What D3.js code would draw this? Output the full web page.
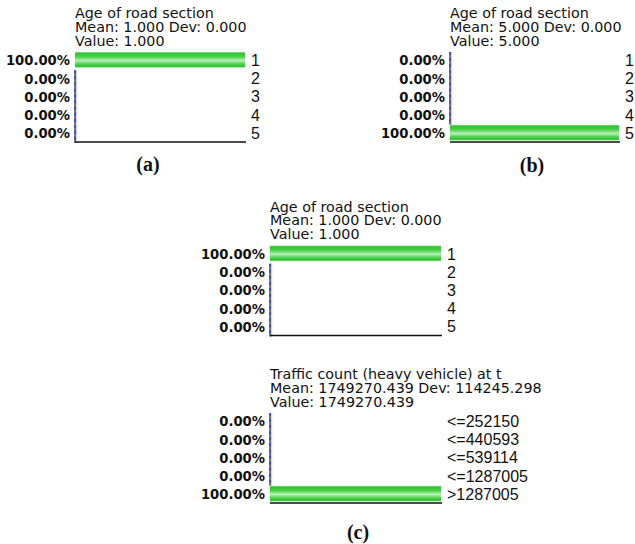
<!DOCTYPE html>
<html>
<head>
<meta charset="utf-8">
<script src="https://cdn.jsdelivr.net/npm/d3@7"></script>
<style>
  html, body { margin: 0; padding: 0; background: #fff; }
  svg { display: block; }
  .ttl { font-family: "DejaVu Sans", Verdana, sans-serif; font-size: 14.3px; fill: #111; }
  .pct { font-family: "DejaVu Sans", Verdana, sans-serif; font-size: 13.2px; font-weight: bold; fill: #111; }
  .cat { font-family: "Liberation Sans", Arial, sans-serif; font-size: 16px; fill: #111; }
  .cap { font-family: "Liberation Serif", "Times New Roman", serif; font-size: 20px; font-weight: bold; fill: #111; }
</style>
</head>
<body>
<svg id="chart" width="635" height="544"></svg>
<script>
// Node states and beliefs (percent)
const ageCategories = ["1", "2", "3", "4", "5"];
const ageBeliefA = [100, 0, 0, 0, 0];
const ageBeliefB = [0, 0, 0, 0, 100];
const ageBeliefC = [100, 0, 0, 0, 0];
const trafficCategories = ["<=252150", "<=440593", "<=539114", "<=1287005", ">1287005"];
const trafficBeliefC = [0, 0, 0, 0, 100];

// Node header lines
const ageTitleA = ["Age of road section", "Mean: 1.000 Dev: 0.000", "Value: 1.000"];
const ageTitleB = ["Age of road section", "Mean: 5.000 Dev: 0.000", "Value: 5.000"];
const ageTitleC = ["Age of road section", "Mean: 1.000 Dev: 0.000", "Value: 1.000"];
const trafficTitleC = ["Traffic count (heavy vehicle) at t", "Mean: 1749270.439 Dev: 114245.298", "Value: 1749270.439"];

const captions = ["(a)", "(b)", "(c)"];

const svg = d3.select("#chart");

// glossy green fill for belief bars
const grad = svg.append("defs").append("linearGradient")
  .attr("id", "barFill").attr("x1", 0).attr("y1", 0).attr("x2", 0).attr("y2", 1);
[[0, "#8ee08e"], [0.1, "#2fc62f"], [0.3, "#48d048"], [0.55, "#b9f0b9"], [0.75, "#55d455"], [0.92, "#2cc02c"], [1, "#9ae29a"]]
  .forEach(([o, c]) => grad.append("stop").attr("offset", o).attr("stop-color", c));

function monitor(x0, x1, y0, title, cats, vals) {
  const g = svg.append("g");
  const x = d3.scaleLinear().domain([0, 100]).range([x0, x1]);
  const y = d3.scaleBand().domain(cats).range([y0, y0 + 88.5]).paddingInner(0.14).paddingOuter(0);
  const step = y.step();
  const base = y0 + 90;
  const rows = cats.map((c, i) => ({ c, v: vals[i] }));

  g.selectAll("text.ttl").data(title).join("text")
    .attr("class", "ttl")
    .attr("x", x0)
    .attr("y", (d, i) => y0 - 6.2 - (title.length - 1 - i) * 13.9)
    .text(d => d);

  // zero-belief rows show a thin dashed stub at the origin
  const zeros = rows.filter(d => d.v === 0);
  g.selectAll("line.zg").data(zeros).join("line")
    .attr("x1", x(0) + 1.5).attr("x2", x(0) + 1.5)
    .attr("y1", d => y(d.c)).attr("y2", d => y(d.c) + step)
    .attr("stroke", "#d4d4d4").attr("stroke-width", 1.5);
  g.selectAll("line.zk").data(zeros).join("line")
    .attr("x1", x(0)).attr("x2", x(0))
    .attr("y1", d => y(d.c)).attr("y2", d => y(d.c) + step)
    .attr("stroke", "#222").attr("stroke-width", 1.2);
  g.selectAll("line.zb").data(zeros).join("line")
    .attr("x1", x(0)).attr("x2", x(0))
    .attr("y1", d => y(d.c)).attr("y2", d => y(d.c) + step)
    .attr("stroke", "#2a3cf0").attr("stroke-width", 1.4)
    .attr("stroke-dasharray", "3,3");

  g.selectAll("rect.bar").data(rows.filter(d => d.v > 0)).join("rect")
    .attr("x", x(0))
    .attr("y", d => y(d.c))
    .attr("width", d => x(d.v) - x(0))
    .attr("height", y.bandwidth())
    .attr("fill", "url(#barFill)");

  g.append("line")
    .attr("x1", x(0)).attr("x2", x(100) + 1)
    .attr("y1", base).attr("y2", base)
    .attr("stroke", "#111").attr("stroke-width", 1.6);

  g.selectAll("text.pct").data(rows).join("text")
    .attr("class", "pct")
    .attr("x", x(0) - 5)
    .attr("y", d => y(d.c) + y.bandwidth() / 2 + 5.6)
    .attr("text-anchor", "end")
    .text(d => d3.format(".2f")(d.v) + "%");

  g.selectAll("text.cat").data(cats).join("text")
    .attr("class", "cat")
    .attr("x", x(100) + 6)
    .attr("y", d => y(d) + y.bandwidth() / 2 + 6.2)
    .text(d => d);
}

monitor(75, 245, 52, ageTitleA, ageCategories, ageBeliefA);
monitor(450, 619, 52, ageTitleB, ageCategories, ageBeliefB);
monitor(270, 441, 245.5, ageTitleC, ageCategories, ageBeliefC);
monitor(270, 441, 413, trafficTitleC, trafficCategories, trafficBeliefC);

svg.selectAll("text.cap").data(captions).join("text")
  .attr("class", "cap")
  .attr("x", (d, i) => [148, 532, 358][i])
  .attr("y", (d, i) => [171, 172, 539][i])
  .attr("text-anchor", "middle")
  .text(d => d);
</script>
</body>
</html>
